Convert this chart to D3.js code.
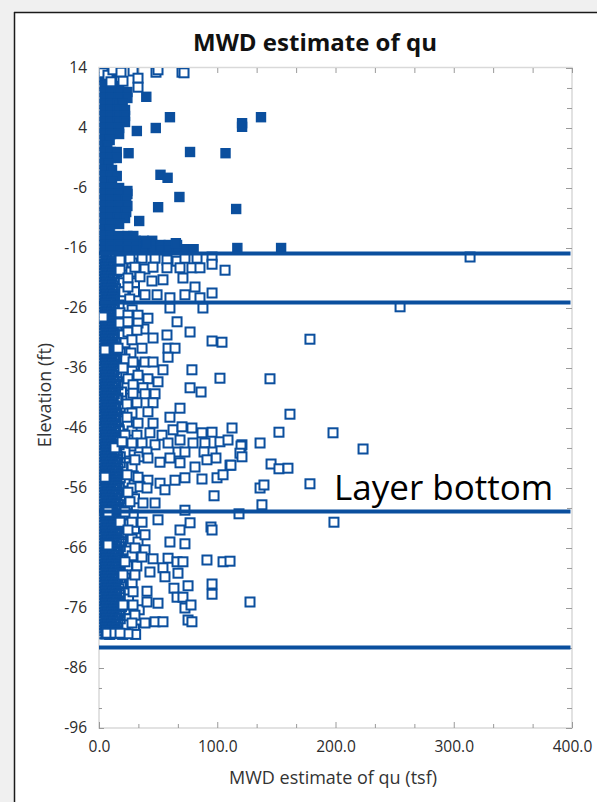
<!DOCTYPE html>
<html><head><meta charset="utf-8">
<script src="https://cdn.jsdelivr.net/npm/d3@7"></script>
<style>
body{margin:0;background:#f0f0f0;}
svg{display:block;font-family:"Open Sans",sans-serif;}
</style>
</head><body><svg id="c" width="597" height="802"></svg>
<script>
// ---------- data ----------
const layerBottoms = [-16.9, -25.1, -59.9, -82.6];
const xTickValues = [0, 100, 200, 300, 400];
const xTickLabels = ["0.0", "100.0", "200.0", "300.0", "400.0"];
const yTickValues = [14, 4, -6, -16, -26, -36, -46, -56, -66, -76, -86, -96];
const xMinorTicks = [33.3, 66.7, 133.3, 166.7, 233.3, 266.7, 333.3, 366.7];
const yMinorTicks = [10.67, 7.33, 0.67, -2.67, -9.33, -12.67, -19.33, -22.67, -29.33, -32.67, -39.33, -42.67,
  -49.33, -52.67, -59.33, -62.67, -69.33, -72.67, -79.33, -82.67, -89.33, -92.67];

// filled squares (layer above first layer bottom): [elevation, [qu values]]
const filledRows = [
  [12.5,[3,9]],[12,[3,11]],[11,[3,10,17]],[10,[3,10,17,24]],[9,[3,10,17,24]],[8,[3,10,16,20]],
  [7,[3,10,16,22]],[6,[3,10,16,22]],[5,[3,10,16,22]],[4,[3,10,17]],[3,[3,10,17]],[2,[3,9]],
  [1,[3,7]],[0,[3,10,15]],[-1,[3,10,15]],[-2,[3,8]],[-3,[3,11]],[-4,[3,10,15]],[-5,[3,11]],
  [-6,[3,10,17]],[-7,[3,10,17,24]],[-8,[3,10,17,23]],[-9,[3,10,17,24]],[-10,[3,10,17,23]],
  [-11,[3,10,16,22]],[-12,[3,10,17]],[-13,[3,9]],[-14,[3,10,17,24,29]],
  [-14.8,[3,10,17,24,31,38,45]],
  [-15.5,[3,10,17,24,31,38,45,52,59,66]],
  [-16.2,[3,10,17,24,31,38,45,52,59,66,73,80]]
];
// isolated filled squares: [qu, elevation]
const filledPts = [
  [40,9.2],[60,5.8],[121,4.8],[137,5.8],[48,4],[32,3.5],[121,4.2],[25,-0.2],[77,0],[107,-0.2],
  [52,-3.8],[58,-4.3],[24,-6.5],[68,-7.5],[50,-9.2],[116,-9.5],[34,-11.5],[40,-15.2],[65,-15.2],
  [117,-16.0],[154,-16.0]
];
// hollow squares at the very top: [qu, elevation]
const topHollowPts = [
  [3.4,13.2],[7.6,12.8],[11.8,13.7],[18.6,13.3],[28.8,13.5],[48.2,13.3],[49.9,13.7],[70.2,13.3],
  [71.9,13.2],[20.3,11.8],[33.0,12.3],[33.0,10.8],[10.1,11.7]
];
// dense hollow core near qu = 0: [elevation, [qu values]]
const coreRows = [
  [-17.3,[0,3,6,9,12]],[-17.8,[1,4,7,10]],[-18.3,[0,3,6,9,12]],[-18.8,[2,5,8,11]],[-19.3,[0,3,6,9,13]],[-19.8,[1,4,7,10]],
  [-20.3,[0,3,6,9,12]],[-20.8,[2,5,8,11]],[-21.3,[0,3,6,9,13]],[-21.8,[1,4,7,10]],[-22.3,[0,3,6,9,12]],[-22.8,[2,5,8,11]],
  [-23.3,[0,3,6,9,12]],[-23.8,[1,4,7,10,13]],[-24.3,[0,3,6,9,12]],[-24.8,[2,5,8,11]],[-25.3,[0,3,6,9]],[-25.8,[1,4,7,10,13]],
  [-26.3,[0,3,6,9,12]],[-26.8,[2,5,8,11]],[-27.3,[0,3,6,9,12]],[-27.8,[1,4,7,10]],[-28.3,[0,3,6,9,13]],[-28.8,[2,5,8,11]],
  [-29.3,[0,3,6,9,12]],[-29.8,[1,4,7,10]],[-30.3,[0,3,6,9,13]],[-30.8,[2,5,8,11]],[-31.3,[0,3,6,9,12]],[-31.8,[1,4,7,10,14]],
  [-32.3,[0,3,6,9,12]],[-32.8,[2,5,8,11]],[-33.3,[0,3,6,9,12,15]],[-33.8,[1,4,7,10]],[-34.3,[0,3,6,9,13]],[-34.8,[2,5,8,11,15]],
  [-35.3,[0,3,6,9,12]],[-35.8,[1,4,7,10,14]],[-36.3,[0,3,6,9,13]],[-36.8,[2,5,8,11]],[-37.3,[0,3,6,9,12,15]],[-37.8,[1,4,7,10]],
  [-38.3,[0,3,6,9,13]],[-38.8,[2,5,8,11,16]],[-39.3,[0,3,6,9,12]],[-39.8,[1,4,7,10,14]],[-40.3,[0,3,6,9,13]],[-40.8,[2,5,8,11]],
  [-41.3,[0,3,6,9,12,15]],[-41.8,[1,4,7,10]],[-42.3,[0,3,6,9,13]],[-42.8,[2,5,8,11,14]],[-43.3,[0,3,6,9,12]],[-43.8,[1,4,7,10,14]],
  [-44.3,[0,3,6,9,13]],[-44.8,[2,5,8,11,16]],[-45.3,[0,3,6,9,12]],[-45.8,[1,4,7,10,14]],[-46.3,[0,3,6,9,13,17]],[-46.8,[2,5,8,11]],
  [-47.3,[0,3,6,9,12,15]],[-47.8,[1,4,7,10,14]],[-48.3,[0,3,6,9,13]],[-48.8,[2,5,8,11,17]],[-49.3,[0,3,6,9,12]],[-49.8,[1,4,7,10,15]],
  [-50.3,[0,3,6,9,13]],[-50.8,[2,5,8,11,16]],[-51.3,[0,3,6,9,12,15]],[-51.8,[1,4,7,10,14,18]],[-52.3,[0,3,6,9,13]],[-52.8,[2,5,8,11,16]],
  [-53.3,[0,3,6,9,12,15]],[-53.8,[1,4,7,10,14]],[-54.3,[0,3,6,9,13,18]],[-54.8,[2,5,8,11,15]],[-55.3,[0,3,6,9,12,15]],[-55.8,[1,4,7,10,14,17]],
  [-56.3,[0,3,6,9,13]],[-56.8,[2,5,8,11,16]],[-57.3,[0,3,6,9,12,15]],[-57.8,[1,4,7,10,14,18]],[-58.3,[0,3,6,9,13]],[-58.8,[2,5,8,11,16]],
  [-59.3,[0,3,6,9,12,15]],[-59.8,[1,4,7,10,14,19]],[-60.3,[0,3,6,9,13]],[-60.8,[2,5,8,11,17]],[-61.3,[0,3,6,9,12,15]],[-61.8,[1,4,7,10,14,18]],
  [-62.3,[0,3,6,9,13]],[-62.8,[2,5,8,11,16]],[-63.3,[0,3,6,9,12,15]],[-63.8,[1,4,7,10,14,19]],[-64.3,[0,3,6,9,13]],[-64.8,[2,5,8,11,17]],
  [-65.3,[0,3,6,9,12,15]],[-65.8,[1,4,7,10,14,18]],[-66.3,[0,3,6,9,13]],[-66.8,[2,5,8,11,16]],[-67.3,[0,3,6,9,12,15]],[-67.8,[1,4,7,10,14,19]],
  [-68.3,[0,3,6,9,13]],[-68.8,[2,5,8,11,17]],[-69.3,[0,3,6,9,12,15]],[-69.8,[1,4,7,10,14,18]],[-70.3,[0,3,6,9,13]],[-70.8,[2,5,8,11,16]],
  [-71.3,[0,3,6,9,12,15]],[-71.8,[1,4,7,10,14,19]],[-72.3,[0,3,6,9,13]],[-72.8,[2,5,8,11,17]],[-73.3,[0,3,6,9,12,15]],[-73.8,[1,4,7,10,14,18]],
  [-74.3,[0,3,6,9,13]],[-74.8,[2,5,8,11,16]],[-75.3,[0,3,6,9,12,15]],[-75.8,[1,4,7,10,14,19]],[-76.3,[0,3,6,9,13]],[-76.8,[2,5,8,11,17]],
  [-77.3,[0,3,6,9,12,15]],[-77.8,[1,4,7,10,14,18]],[-78.3,[0,3,6,9,13]],[-78.8,[2,5,8,11,16]],[-79.3,[0,3,6,9,12,15]],[-79.8,[1,4,7,10,14]],
  [-80.3,[0,3,6,9,13]]
];
// medium-density hollow squares next to the core: [qu, elevation]
const midPts = [
  [14,-17.5],[22,-17.5],[12,-18.5],[28,-18.5],[20,-19],[15,-20],[27,-20],[12,-21],[18,-21.8],[30,-21.8],
  [14,-22.8],[21,-23.3],[30,-23.3],[13,-24.5],[26,-24.5],[17,-25.5],[12,-26.3],[28,-26.3],[15,-27.8],
  [20,-28.8],[13,-28.8],[15,-29.5],[38,-29.5],[12,-30.5],[20,-30.5],[15,-31.8],[22,-31.8],[12,-32.5],
  [18,-33.5],[27,-33.5],[14,-34.5],[22,-34.5],[12,-35.5],[30,-35.5],[16,-36.5],[28,-36.5],[12,-37.3],[20,-37.3],
  [16,-38.3],[14,-39],[22,-39],[12,-40],[19,-40],[16,-41],[27,-41],[13,-42.5],[18,-42.5],[15,-43.5],
  [12,-44.5],[17,-44.5],[14,-45.5],[24,-45.5],[17,-46.5],[28,-46.5],[13,-47.5],[16,-48],[10,-48],
  [20,-49],[27,-49],[14,-50],[22,-50],[18,-50.8],[34,-50.8],[14,-51.8],[22,-51.8],[20,-52.5],[28,-52.5],
  [14,-53.3],[16,-54],[29,-54],[13,-55],[22,-55],[17,-56],[28,-56],[14,-57],[21,-57],[19,-57.8],[30,-57.8],
  [14,-58.8],[24,-58.8],[17,-59.5],[13,-60.5],[20,-60.5],[29,-60.5],[15,-61],[18,-62],[23,-62],[14,-62.8],[30,-62.8],
  [17,-63.5],[23,-63.5],[14,-64.5],[28,-64.5],[19,-65],[33,-65],[15,-66.5],[24,-66.5],[13,-67.3],[28,-67.3],
  [18,-68],[14,-69],[24,-69],[32,-69],[17,-70],[12,-70],[14,-71],[22,-71],[18,-71.8],[28,-71.8],
  [14,-72.5],[20,-72.5],[16,-73.5],[22,-73.5],[13,-74.5],[25,-74.5],[17,-75],[14,-76.3],[22,-76.3],[34,-76.3],
  [18,-77],[14,-77.8],[24,-77.8],[17,-78.8],[21,-78.8],[13,-79.5],[30,-79.5],[9,-80.4],[20,-80.4],[31,-80.4]
];
// scattered hollow squares: [qu, elevation]
const hollowPts = [
  [17.8,-18.0],[26.2,-17.8],[36.4,-17.7],[47.4,-17.7],[57.5,-18.0],[66.0,-18.2],[72.7,-17.7],[82.9,-17.7],[95.6,-17.5],[313.8,-17.5],
  [17.8,-19.7],[30.4,-19.2],[38.9,-19.5],[45.7,-19.2],[57.5,-19.3],[68.5,-19.3],[78.6,-19.3],[85.4,-19.3],[95.6,-18.7],[106.6,-19.7],
  [24.5,-21.0],[34.7,-20.8],[44.8,-21.5],[54.1,-21.3],[71.0,-21.0],[81.2,-22.5],[24.5,-22.5],
  [38.9,-23.8],[49.1,-23.8],[60.0,-24.3],[72.7,-23.8],[85.4,-24.3],[95.6,-23.5],[254.6,-25.8],
  [3.4,-27.5],[17.8,-26.8],[24.5,-27.2],[33.0,-27.2],[41.4,-27.7],[60.0,-26.0],[87.9,-26.0],
  [17.8,-28.5],[24.5,-28.3],[33.0,-28.5],[66.0,-28.3],[77.0,-30.0],[57.5,-30.5],[24.5,-30.0],[32.1,-29.7],
  [27.9,-31.3],[45.7,-31.0],[95.6,-31.5],[104.0,-31.7],[178.4,-31.2],[36.4,-32.7],[58.4,-32.7],[64.3,-32.7],[5.1,-33.0],[16.1,-32.7],
  [58.4,-34.2],[28.8,-35.0],[38.9,-35.0],[45.7,-35.0],[20.3,-36.0],[54.1,-36.3],[78.6,-36.3],[102.3,-37.7],[144.6,-37.8],
  [33.0,-37.2],[41.4,-37.8],[49.9,-38.3],[24.5,-37.8],[28.8,-38.8],[37.2,-39.3],[77.0,-39.3],[86.3,-40.0],
  [28.8,-40.2],[38.9,-40.3],[47.4,-40.3],[32.1,-41.8],[45.7,-41.8],[23.7,-42.0],[68.5,-42.7],[161.5,-43.7],
  [60.0,-44.2],[41.4,-43.3],[27.9,-43.5],[33.0,-45.2],[45.7,-45.2],[23.7,-44.2],
  [62.6,-46.3],[70.2,-45.8],[78.6,-46.0],[87.1,-46.8],[95.6,-46.7],[112.5,-46.0],[152.2,-46.7],[197.9,-46.8],
  [22.0,-47.2],[32.1,-47.2],[43.1,-46.8],[53.3,-47.2],[58.4,-48.5],[68.5,-48.0],[79.5,-48.5],[89.6,-48.5],
  [102.3,-48.3],[109.1,-48.0],[120.9,-48.8],[136.2,-48.5],[27.9,-48.5],[36.4,-48.5],[47.4,-48.8],[223.3,-49.5],
  [120.1,-49.0],[40.6,-50.0],[66.8,-50.0],[72.7,-50.0],[95.6,-50.0],[88.8,-50.0],[119.2,-50.2],[13.5,-49.3],[19.5,-48.3],
  [120.9,-50.8],[98.9,-51.0],[30.4,-51.3],[41.4,-51.0],[51.6,-51.7],[60.0,-51.0],[68.5,-51.8],[81.2,-52.5],[91.3,-51.3],
  [110.8,-52.2],[111.6,-52.2],[145.5,-52.0],[152.2,-52.8],[159.8,-52.7],
  [5.1,-54.2],[23.7,-53.8],[33.0,-54.2],[41.4,-54.7],[51.6,-55.2],[64.3,-54.7],[72.7,-54.3],[87.1,-54.5],[99.8,-54.3],[104.9,-53.8],
  [136.2,-56.0],[139.5,-55.5],[178.4,-55.3],[24.5,-56.7],[34.7,-55.8],[40.6,-56.0],[55.8,-56.3],[97.3,-57.3],
  [26.2,-58.3],[37.2,-58.5],[47.4,-58.5],[72.7,-59.7],[137.8,-58.8],[118.4,-60.3],[7.6,-60.0],[22.0,-60.0],
  [49.9,-61.3],[77.0,-61.8],[198.7,-61.7],[17.8,-61.7],[27.9,-61.7],[36.4,-61.7],[94.7,-62.5],
  [24.5,-63.0],[38.9,-63.8],[68.5,-63.0],[95.6,-63.0],[60.0,-65.0],[72.7,-65.3],[30.4,-66.0],[38.9,-66.3],[7.6,-65.5],
  [22.0,-68.3],[36.4,-67.5],[45.7,-67.8],[58.4,-67.7],[66.0,-68.3],[71.0,-68.3],[91.3,-68.0],[104.9,-68.3],[110.8,-68.2],
  [20.3,-70.5],[30.4,-70.5],[43.1,-70.0],[54.1,-69.3],[55.8,-70.8],[66.8,-70.2],[75.3,-72.3],[63.4,-72.7],
  [95.6,-72.0],[95.6,-73.7],[28.8,-73.3],[40.6,-73.2],[49.9,-75.2],[40.6,-75.0],[20.3,-75.5],[28.8,-75.5],
  [66.0,-74.2],[71.0,-74.2],[127.7,-75.0],[72.7,-76.0],[77.8,-75.5],[30.4,-77.2],
  [38.9,-78.5],[47.4,-78.3],[54.1,-78.3],[75.3,-78.0],[78.6,-78.3],[27.9,-78.5],
  [6.8,-80.2],[13.5,-80.2],[24.5,-80.3],[17.8,-80.2]
];

// ---------- drawing ----------
const W = 597, H = 802;
const blue = "#0b4f9e";
const svg = d3.select("#c");
const x = d3.scaleLinear().domain([0, 400]).range([99, 572]);
const y = d3.scaleLinear().domain([14, -96]).range([68, 728]);

// window panel
svg.append("rect").attr("x", 14).attr("y", 12).attr("width", W).attr("height", H).attr("fill", "#fff");
svg.append("line").attr("x1", 14).attr("x2", W).attr("y1", 12.5).attr("y2", 12.5).attr("stroke", "#1a1a1a").attr("stroke-width", 1.5);
svg.append("line").attr("x1", 14.5).attr("x2", 14.5).attr("y1", 12).attr("y2", H).attr("stroke", "#1a1a1a").attr("stroke-width", 1.5);

// plot frame
const [x0, x1] = x.range(), [y0, y1] = y.range();
svg.append("rect").attr("x", x0).attr("y", y0 - 0.5).attr("width", x1 - x0).attr("height", y1 - y0 + 0.5)
  .attr("fill", "none").attr("stroke", "#d9d9d9").attr("stroke-width", 1.5);

// axes (ticks inside)
function styleAxis(g) {
  g.select(".domain").remove();
  g.selectAll(".tick line").attr("stroke", "#9a9a9a");
  g.selectAll(".tick text").attr("fill", "#2b2b2b").style("font-size", "15.5px").style("font-family", '"Open Sans",sans-serif');
}
svg.append("g").attr("transform", `translate(0,${y1})`)
  .call(d3.axisBottom(x).tickValues(xTickValues).tickSize(-6).tickPadding(13).tickFormat((d, i) => xTickLabels[i]))
  .call(styleAxis);
svg.append("g").attr("transform", `translate(0,${y1})`)
  .call(d3.axisBottom(x).tickValues(xMinorTicks).tickSize(-4).tickFormat("")).call(styleAxis);
svg.append("g").attr("transform", `translate(0,${y0})`)
  .call(d3.axisTop(x).tickValues(xTickValues.concat(xMinorTicks)).tickSize(-5).tickFormat("")).call(styleAxis);
svg.append("g").attr("transform", `translate(${x0},0)`)
  .call(d3.axisLeft(y).tickValues(yTickValues).tickSize(-5).tickPadding(12).tickFormat(d => String(d)))
  .call(styleAxis);
svg.append("g").attr("transform", `translate(${x0},0)`)
  .call(d3.axisLeft(y).tickValues(yMinorTicks).tickSize(-3).tickFormat("")).call(styleAxis);
svg.append("g").attr("transform", `translate(${x1},0)`)
  .call(d3.axisRight(y).tickValues(yTickValues).tickSize(-6).tickFormat("")).call(styleAxis);
svg.append("g").attr("transform", `translate(${x1},0)`)
  .call(d3.axisRight(y).tickValues(yMinorTicks).tickSize(-5).tickFormat("")).call(styleAxis);

// marks
svg.append("defs").append("clipPath").attr("id", "clip").append("rect")
  .attr("x", x0 + 0.5).attr("y", y0).attr("width", x1 - x0 - 0.5).attr("height", y1 - y0);
const marks = svg.append("g").attr("clip-path", "url(#clip)");
const S = 9;
function squares(data, fill, sw) {
  marks.append("g").selectAll("rect").data(data).join("rect")
    .attr("x", d => x(d[0]) - S / 2).attr("y", d => y(d[1]) - S / 2)
    .attr("width", S).attr("height", S)
    .attr("fill", fill).attr("stroke", blue).attr("stroke-width", sw);
}
const filledAll = filledRows.flatMap(([e, qs]) => qs.map(q => [q, e])).concat(filledPts);
squares(filledAll, blue, 1.4);
const coreAll = coreRows.flatMap(([e, qs]) => qs.map(q => [q, e]));
squares(midPts, "#fff", 2);
squares(coreAll, "none", 2);
squares(hollowPts, "#fff", 2);
squares(topHollowPts, "#fff", 2);

// layer bottom lines
svg.append("g").selectAll("line").data(layerBottoms).join("line")
  .attr("x1", x(0)).attr("x2", x(400) - 1.5)
  .attr("y1", d => y(d)).attr("y2", d => y(d))
  .attr("stroke", blue).attr("stroke-width", 4);

// texts
svg.append("text").attr("x", 315).attr("y", 51).attr("text-anchor", "middle")
  .style("font-size", "24px").style("font-weight", "bold").attr("fill", "#111").text("MWD estimate of qu");
svg.append("text").attr("transform", "translate(51,395) rotate(-90)").attr("text-anchor", "middle")
  .style("font-size", "18px").attr("fill", "#333").text("Elevation (ft)");
svg.append("text").attr("x", 333).attr("y", 784).attr("text-anchor", "middle")
  .style("font-size", "18px").attr("fill", "#333").text("MWD estimate of qu (tsf)");
svg.append("text").attr("x", 334).attr("y", 500)
  .style("font-size", "35px").attr("fill", "#000").text("Layer bottom");
</script>
</body></html>
